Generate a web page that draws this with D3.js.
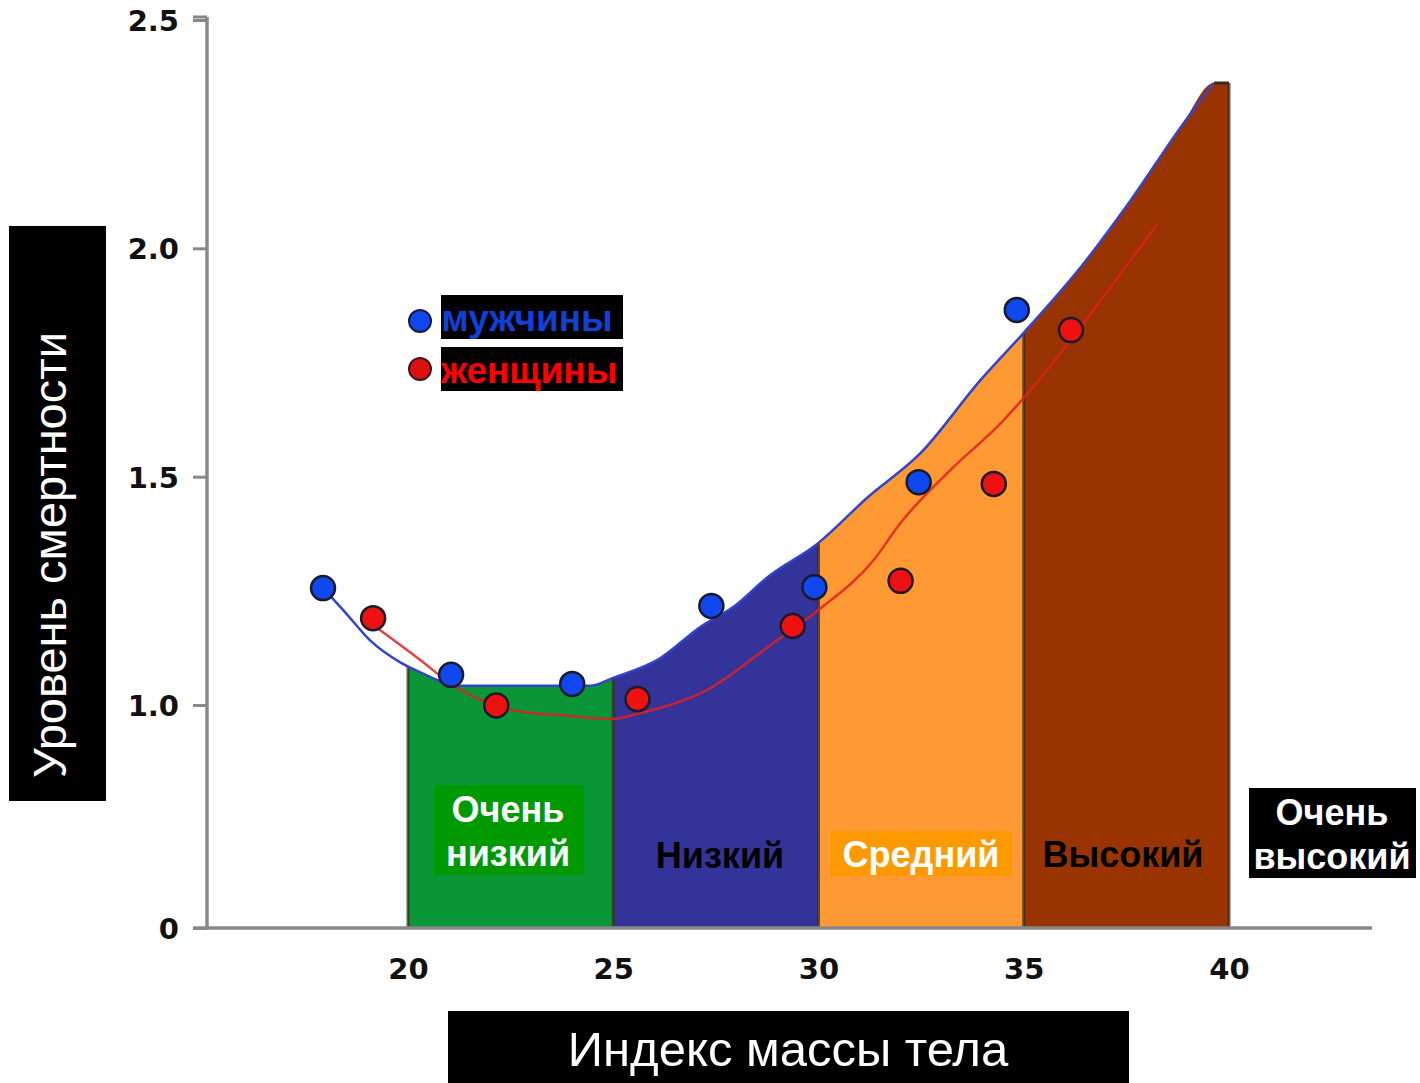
<!DOCTYPE html>
<html><head><meta charset="utf-8">
<script src="https://cdn.jsdelivr.net/npm/d3@7"></script>
<style>body{margin:0;background:#fff}svg{display:block}
.sans{font-family:"Liberation Sans", Arimo, Arial, Helvetica, sans-serif}
.tick text{font-family:"DejaVu Sans", Verdana, sans-serif}</style>
</head><body>
<svg id="c" width="1420" height="1083"></svg>
<script>
// ---- data ----
const yTicks = [0, 1.0, 1.5, 2.0, 2.5];
const yTickLabels = ["0", "1.0", "1.5", "2.0", "2.5"];
const xTicks = [20, 25, 30, 35, 40];
const bandEdges = [20, 25, 30, 35, 40];
const bandNames = [["Очень", "низкий"], ["Низкий"], ["Средний"], ["Высокий"], ["Очень", "высокий"]];
const bandColors = ["#0a9637", "#333399", "#ff9933", "#993300"];
const menX = [17.93, 21.05, 24.0, 27.39, 29.9, 32.44, 34.83];
const menY = [1.256, 1.066, 1.046, 1.217, 1.258, 1.488, 1.865];
const womenX = [19.15, 22.15, 25.59, 29.37, 32.0, 34.27, 36.15];
const womenY = [1.19, 0.998, 1.013, 1.173, 1.272, 1.484, 1.821];
const menCurveX = [17.93, 18.46, 19.07, 19.8, 20.29, 21.27, 24.44, 24.98, 26.15, 27.12, 27.93, 28.76, 30.0, 31.2, 32.49, 33.95, 35.0, 36.39, 37.61, 38.83, 39.63, 40.0];
const menCurveY = [1.256, 1.204, 1.142, 1.094, 1.072, 1.042, 1.042, 1.059, 1.103, 1.171, 1.215, 1.28, 1.355, 1.455, 1.552, 1.712, 1.815, 1.959, 2.106, 2.266, 2.362, 2.362];
const womenCurveX = [19.15, 20.29, 21.02, 22.12, 22.98, 23.71, 24.98, 25.66, 27.29, 28.9, 30.0, 31.34, 32.0, 33.22, 34.44, 35.17, 36.88, 38.27];
const womenCurveY = [1.175, 1.099, 1.048, 0.996, 0.964, 0.955, 0.937, 0.964, 1.033, 1.136, 1.208, 1.317, 1.399, 1.515, 1.617, 1.69, 1.887, 2.055];

const svg = d3.select("#c");
const x = d3.scaleLinear().domain([20, 40]).range([408, 1229]);
const y = d3.scaleLinear().domain([0, 1, 2.5]).range([928, 705, 20]);

const menCurve = menCurveX.map((v, i) => [v, menCurveY[i]]);
const womenCurve = womenCurveX.map((v, i) => [v, womenCurveY[i]]);

const defs = svg.append("defs");
const area = d3.area().x(d => x(d[0])).y0(y(0)).y1(d => y(d[1])).curve(d3.curveMonotoneX);
for (let i = 0; i < 4; i++) {
  defs.append("clipPath").attr("id", "clip" + i).append("rect")
    .attr("x", x(bandEdges[i])).attr("y", 0)
    .attr("width", x(bandEdges[i + 1]) - x(bandEdges[i])).attr("height", y(0));
  svg.append("path").datum(menCurve.filter(d => d[0] >= 19.5))
    .attr("d", area).attr("fill", bandColors[i]).attr("clip-path", `url(#clip${i})`);
}
const topAt = v => {
  const path = svg.append("path").datum(menCurve).attr("d", d3.line().x(d => x(d[0])).y(d => y(d[1])).curve(d3.curveMonotoneX)).attr("fill", "none");
  const node = path.node(); const L = node.getTotalLength();
  let lo = 0, hi = L;
  for (let k = 0; k < 40; k++) { const m = (lo + hi) / 2; if (node.getPointAtLength(m).x < x(v)) lo = m; else hi = m; }
  const p = node.getPointAtLength(lo); path.remove(); return p.y;
};
bandEdges.forEach(v => {
  svg.append("line").attr("x1", x(v)).attr("x2", x(v)).attr("y1", topAt(v)).attr("y2", y(0))
    .attr("stroke", "#3a2a1a").attr("stroke-width", 3).attr("opacity", 0.75);
});
svg.append("line").attr("x1", x(39.63)).attr("x2", x(40)).attr("y1", y(2.362)).attr("y2", y(2.362))
  .attr("stroke", "#3a2a1a").attr("stroke-width", 3);

svg.append("path").datum(menCurve.filter(d => d[0] <= 39.63))
  .attr("d", d3.line().x(d => x(d[0])).y(d => y(d[1])).curve(d3.curveMonotoneX))
  .attr("fill", "none").attr("stroke", "#3344cc").attr("stroke-width", 2.5);
svg.append("path").datum(womenCurve)
  .attr("d", d3.line().x(d => x(d[0])).y(d => y(d[1])).curve(d3.curveMonotoneX))
  .attr("fill", "none").attr("stroke", "#e02020").attr("stroke-width", 2.5).attr("opacity", 0.85);

// axes
const yAxis = d3.axisLeft(y).tickValues(yTicks).tickFormat((d, i) => yTickLabels[i]).tickSize(14).tickPadding(14);
const gy = svg.append("g").attr("transform", "translate(207,0)").call(yAxis);
gy.attr("font-family", null).attr("font-size", null);
gy.select(".domain").attr("d", `M0,${y(2.5) - 3}V${y(0)}`).attr("stroke", "#888").attr("stroke-width", 3.5);
gy.selectAll(".tick line").attr("stroke", "#888").attr("stroke-width", 3);
gy.selectAll(".tick text").attr("font-weight", "bold").attr("font-size", 29).attr("fill", "#111").attr("dy", "0.36em");
gy.append("line").attr("x1", -14).attr("x2", 0).attr("y1", y(2.5) - 3).attr("y2", y(2.5) - 3).attr("stroke", "#888").attr("stroke-width", 3);

const xAxis = d3.axisBottom(x).tickValues(xTicks).tickFormat(d3.format("d")).tickSize(0).tickPadding(30);
const gx = svg.append("g").attr("transform", `translate(0,${y(0)})`).call(xAxis);
gx.attr("font-family", null).attr("font-size", null);
gx.select(".domain").attr("d", "M193,0H1372").attr("stroke", "#888").attr("stroke-width", 3.5);
gx.selectAll(".tick text").attr("font-weight", "bold").attr("font-size", 29).attr("fill", "#111");

// points
const pts = (xs, ys, fill) => svg.append("g").selectAll("circle").data(xs.map((v, i) => [v, ys[i]])).join("circle")
  .attr("cx", d => x(d[0])).attr("cy", d => y(d[1])).attr("r", 12)
  .attr("fill", fill).attr("stroke", "#1a1a2a").attr("stroke-width", 2.5);
pts(menX, menY, "#1047ee");
pts(womenX, womenY, "#ee1111");

// band labels
const txt = (t, xx, yy, size, fill, bold) => svg.append("text").attr("class", "sans")
  .attr("x", xx).attr("y", yy).attr("text-anchor", "middle")
  .attr("font-weight", bold ? "bold" : "normal").attr("font-size", size).attr("fill", fill).text(t);
svg.append("rect").attr("x", 434).attr("y", 785).attr("width", 150).attr("height", 90).attr("fill", "#009a00");
txt(bandNames[0][0], 508, 822, 36, "#fff", true);
txt(bandNames[0][1], 508, 866, 36, "#fff", true);
txt(bandNames[1][0], 720, 868, 36, "#000", true);
svg.append("rect").attr("x", 830).attr("y", 831).attr("width", 182).attr("height", 45).attr("fill", "#ff9900");
txt(bandNames[2][0], 921, 867, 36, "#fff", true);
txt(bandNames[3][0], 1123, 867, 36, "#000", true);
svg.append("rect").attr("x", 1249).attr("y", 788).attr("width", 167).attr("height", 90).attr("fill", "#000");
txt(bandNames[4][0], 1332, 825, 36, "#fff", true);
txt(bandNames[4][1], 1332, 869, 36, "#fff", true);

// legend
svg.append("circle").attr("cx", 420).attr("cy", 321).attr("r", 11).attr("fill", "#1047ee").attr("stroke", "#1a1a3a").attr("stroke-width", 2);
svg.append("rect").attr("x", 441).attr("y", 295).attr("width", 182).attr("height", 44).attr("fill", "#000");
txt("мужчины", 527, 331, 37, "#1040d8", true);
svg.append("circle").attr("cx", 420).attr("cy", 369).attr("r", 11).attr("fill", "#dd1111").attr("stroke", "#3a1a1a").attr("stroke-width", 2);
svg.append("rect").attr("x", 441).attr("y", 347).attr("width", 182).attr("height", 44).attr("fill", "#000");
txt("женщины", 529, 383, 37, "#ff0000", true);

// axis titles
svg.append("rect").attr("x", 9).attr("y", 226).attr("width", 97).attr("height", 575).attr("fill", "#000");
svg.append("text").attr("class", "sans").attr("transform", "translate(66,555) rotate(-90)").attr("text-anchor", "middle")
  .attr("font-size", 47).attr("fill", "#fff").text("Уровень смертности");
svg.append("rect").attr("x", 448).attr("y", 1011).attr("width", 681).attr("height", 72).attr("fill", "#000");
txt("Индекс массы тела", 788, 1066, 49, "#fff", false);
</script>
</body></html>
